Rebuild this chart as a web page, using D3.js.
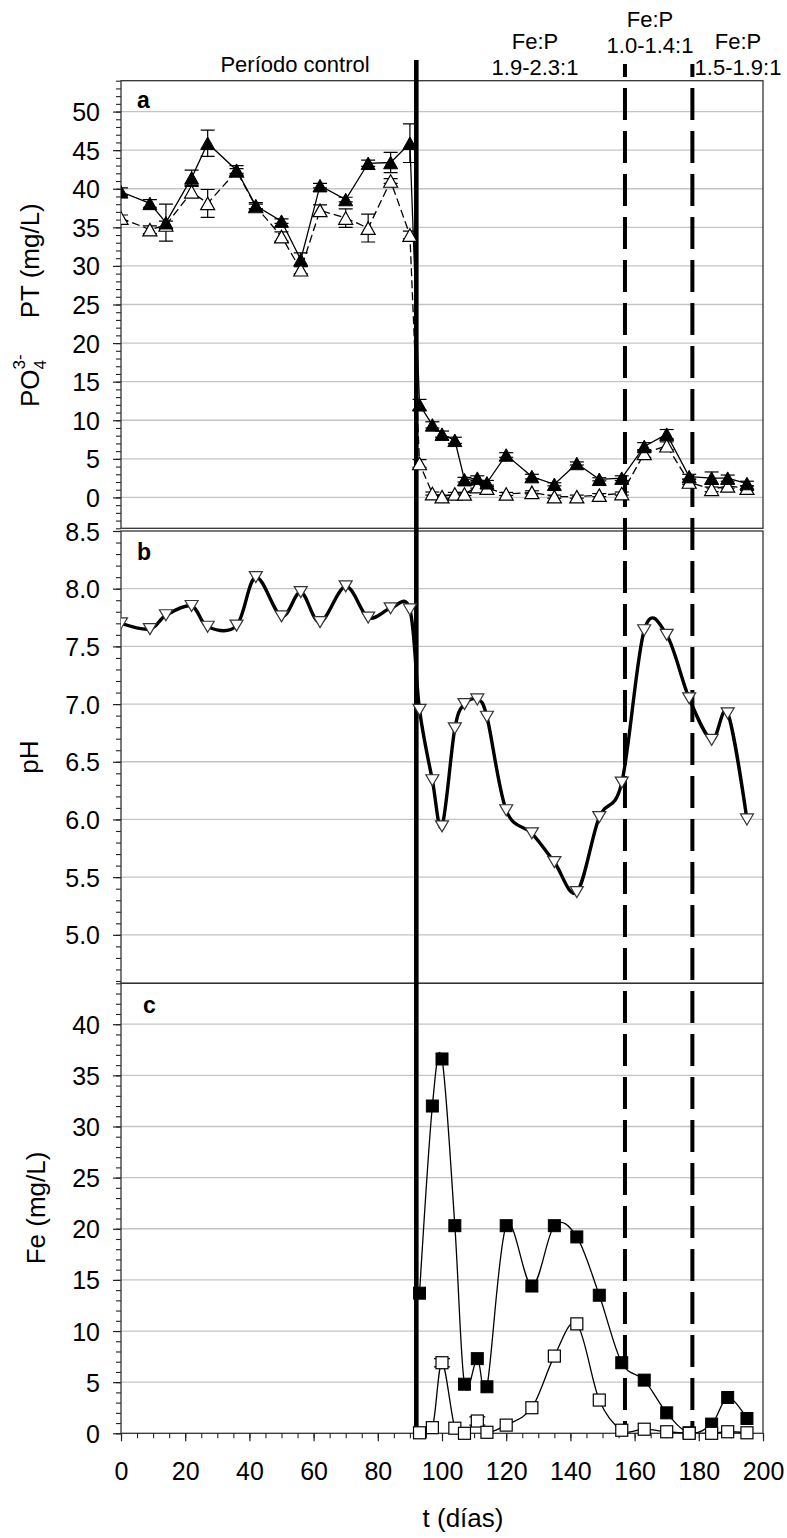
<!DOCTYPE html>
<html>
<head>
<meta charset="utf-8">
<script src="https://cdn.jsdelivr.net/npm/d3@7"></script>
<style>
  body { margin: 0; background: #fff; }
  text { font-family: "Liberation Sans", Arial, sans-serif; fill: #000; }
</style>
</head>
<body>
<svg id="chart" width="787" height="1538"></svg>
<script>
// Sampling days (t, días)
const days = [0, 9, 14, 22, 27, 36, 42, 50, 56, 62, 70, 77, 84, 90,
  93, 97, 100, 104, 107, 111, 114, 120, 128, 135, 142, 149, 156, 163, 170, 177, 184, 189, 195];

// Panel a: total phosphorus (PT) and orthophosphate (PO4 3-), mg/L, with standard deviation
const ptValues = [39.6, 38.1, 35.6, 41.4, 45.9, 42.4, 37.8, 35.8, 30.8, 40.4, 38.6, 43.3, 43.4, 45.9,
  12.0, 9.4, 8.2, 7.4, 2.3, 2.5, 1.9, 5.5, 2.7, 1.7, 4.4, 2.35, 2.5, 6.6, 8.2, 2.7, 2.5, 2.5, 1.8];
const ptErr = [0.5, 0.5, 2.4, 1.0, 1.7, 0.6, 0.4, 0.3, 0.9, 0.3, 0.3, 0.4, 1.3, 2.5,
  0.7, 0.4, 0.4, 0.4, 0.3, 0.3, 0.3, 0.3, 0.3, 0.2, 0.2, 0.2, 0.3, 0.5, 0.6, 0.3, 0.8, 0.4, 0.3];
const po4Values = [36.2, 34.7, 35.3, 39.6, 38.1, 42.3, 37.7, 33.8, 29.5, 37.2, 36.2, 34.9, 41.0, 34.0,
  4.4, 0.5, 0.1, 0.45, 0.45, 1.4, 1.2, 0.45, 0.66, 0.1, 0.1, 0.3, 0.5, 5.7, 6.7, 2.0, 1.05, 1.5, 1.2];
const po4Err = [0.4, 0.5, 0.5, 0.7, 1.8, 0.3, 0.3, 0.6, 0.5, 0.7, 1.2, 1.8, 0.3, 0.5,
  0.5, 0.2, 0.2, 0.2, 0.2, 0.2, 0.2, 0.2, 0.2, 0.2, 0.2, 0.2, 0.2, 0.5, 0.5, 0.3, 0.3, 0.3, 0.3];

// Panel b: pH
const phValues = [7.70, 7.65, 7.77, 7.85, 7.67, 7.68, 8.10, 7.76, 7.97, 7.71, 8.02, 7.75, 7.83, 7.82,
  6.95, 6.34, 5.94, 6.79, 7.00, 7.04, 6.89, 6.08, 5.88, 5.63, 5.37, 6.02, 6.32, 7.64, 7.60, 7.05, 6.69, 6.92, 6.00];

// Panel c: iron, mg/L (only measured after dosing starts)
const feDays = [93, 97, 100, 104, 107, 111, 114, 120, 128, 135, 142, 149, 156, 163, 170, 177, 184, 189, 195];
const feTotal = [13.7, 32.0, 36.6, 20.3, 4.8, 7.3, 4.55, 20.3, 14.4, 20.3, 19.2, 13.5, 6.9, 5.2, 2.0, 0.05, 0.9, 3.5, 1.45];
const feDissolved = [0.05, 0.55, 6.9, 0.5, 0.0, 1.2, 0.1, 0.8, 2.5, 7.55, 10.7, 3.25, 0.3, 0.4, 0.15, 0.0, 0.0, 0.15, 0.05];
const feDissolvedErr = [0, 0, 0.4, 0, 0, 0.4, 0, 0, 0, 0, 0, 0, 0, 0, 0, 0, 0, 0, 0];

// Axis ticks
const xTicks = [0, 20, 40, 60, 80, 100, 120, 140, 160, 180, 200];
const aTicks = [0, 5, 10, 15, 20, 25, 30, 35, 40, 45, 50];
const bTicks = [5.0, 5.5, 6.0, 6.5, 7.0, 7.5, 8.0, 8.5];
const cTicks = [0, 5, 10, 15, 20, 25, 30, 35, 40];

// Period boundaries (days) and their labels
const phaseDays = [92, 157, 178];
const phaseNames = ["Período control", "Fe:P\n1.9-2.3:1", "Fe:P\n1.0-1.4:1", "Fe:P\n1.5-1.9:1"];

const svg = d3.select("#chart");
const x = d3.scaleLinear().domain([0, 200]).range([121, 763]);
const left = 121, right = 763;

const yA = d3.scaleLinear().domain([-4, 54]).range([528.3, 80.7]);
const yB = d3.scaleLinear().domain([4.58, 8.5]).range([983.3, 531]);
const yC = d3.scaleLinear().domain([0, 44]).range([1433.3, 983.3]);

const defs = svg.append("defs");
function clip(id, y) {
  const r = y.range();
  defs.append("clipPath").attr("id", id).append("rect")
    .attr("x", left).attr("y", r[1]).attr("width", right - left).attr("height", r[0] - r[1]);
}
clip("clipA", yA); clip("clipB", yB); clip("clipC", yC);

function range(a, b, step) {
  const out = [];
  const n = Math.round((b - a) / step);
  for (let i = 0; i <= n; i++) out.push(+(a + i * step).toFixed(4));
  return out;
}

const tickFont = 25;

// Gridlines, minor/major left ticks and labels for one panel
function panelAxes(y, major, minor, fmt) {
  const g = svg.append("g");
  g.append("g").selectAll("line").data(major.filter(v => v > y.domain()[0] && v < y.domain()[1]))
    .join("line")
    .attr("x1", left).attr("x2", right)
    .attr("y1", d => y(d)).attr("y2", d => y(d))
    .attr("stroke", "#c4c4c4").attr("stroke-width", 1.3);

  const minorAxis = d3.axisLeft(y).tickValues(minor).tickSize(5).tickFormat("");
  const gm = g.append("g").attr("transform", `translate(${left},0)`).call(minorAxis);
  gm.select(".domain").remove();
  gm.selectAll("line").attr("stroke", "#222").attr("stroke-width", 1.1);

  const majorAxis = d3.axisLeft(y).tickValues(major).tickSize(8).tickPadding(13).tickFormat(fmt);
  const gM = g.append("g").attr("transform", `translate(${left},0)`).call(majorAxis);
  gM.select(".domain").remove();
  gM.selectAll("line").attr("stroke", "#222").attr("stroke-width", 1.2);
  gM.selectAll("text").attr("font-size", tickFont).attr("font-family", "Liberation Sans, Arial, sans-serif")
    .attr("fill", "#000").attr("dy", "0.36em");

  const r = y.range();
  g.append("rect").attr("x", left).attr("y", r[1]).attr("width", right - left).attr("height", r[0] - r[1])
    .attr("fill", "none").attr("stroke", "#333").attr("stroke-width", 1.3);
}

panelAxes(yA, aTicks, range(-4, 54, 1), d3.format("d"));
panelAxes(yB, bTicks, range(4.6, 8.5, 0.1), d3.format(".1f"));
panelAxes(yC, cTicks, range(0, 44, 1), d3.format("d"));

// Bottom time axis
const xMinor = d3.axisBottom(x).tickValues(range(0, 200, 5)).tickSize(5).tickFormat("");
const gxm = svg.append("g").attr("transform", `translate(0,${yC.range()[0]})`).call(xMinor);
gxm.select(".domain").remove();
gxm.selectAll("line").attr("stroke", "#222").attr("stroke-width", 1.1);
const xMajor = d3.axisBottom(x).tickValues(xTicks).tickSize(8).tickFormat(d3.format("d"));
const gxM = svg.append("g").attr("transform", `translate(0,${yC.range()[0]})`).call(xMajor);
gxM.select(".domain").remove();
gxM.selectAll("line").attr("stroke", "#222").attr("stroke-width", 1.2);
gxM.selectAll("text").attr("font-size", tickFont).attr("font-family", "Liberation Sans, Arial, sans-serif")
  .attr("fill", "#000").attr("y", 47).attr("dy", 0);

// Axis titles
svg.append("text").attr("transform", "translate(463,1527)").attr("text-anchor", "middle")
  .attr("font-size", 26).text("t (días)");

const tA = svg.append("text").attr("transform", "translate(38.5,407) rotate(-90)")
  .attr("font-size", 26);
tA.append("tspan").text("PO");
tA.append("tspan").attr("font-size", 17).attr("dy", 7).text("4");
tA.append("tspan").attr("font-size", 17).attr("dx", -9.5).attr("dy", -21).text("3-");
tA.append("tspan").attr("dx", 36).attr("dy", 14).text("PT (mg/L)");

svg.append("text").attr("transform", "translate(38,757) rotate(-90)").attr("text-anchor", "middle")
  .attr("font-size", 26).text("pH");
svg.append("text").attr("transform", "translate(45,1208) rotate(-90)").attr("text-anchor", "middle")
  .attr("font-size", 26).text("Fe (mg/L)");

// Panel letters
[["a", 137, 108], ["b", 137, 560], ["c", 143, 1013]].forEach(([t, px, py]) => {
  svg.append("text").attr("x", px).attr("y", py).attr("font-size", 23).attr("font-weight", "bold").text(t);
});

// Period boundaries
svg.append("line").attr("x1", x(phaseDays[0])).attr("x2", x(phaseDays[0]))
  .attr("y1", 60).attr("y2", yC.range()[0])
  .attr("stroke", "#000").attr("stroke-width", 4.6);
phaseDays.slice(1).forEach(d => {
  svg.append("line").attr("x1", x(d)).attr("x2", x(d))
    .attr("y1", 64).attr("y2", yC.range()[0])
    .attr("stroke", "#000").attr("stroke-width", 4)
    .attr("stroke-dasharray", "32,11").attr("stroke-dashoffset", 19);
});

// Period labels
const labelPos = [[295, [71.7]], [535, [49, 75]], [650, [26.7, 53.3]], [738, [49.3, 75]]];
phaseNames.forEach((name, i) => {
  const [cx, ys] = labelPos[i];
  name.split("\n").forEach((line, j) => {
    svg.append("text").attr("x", cx).attr("y", ys[j]).attr("text-anchor", "middle")
      .attr("font-size", 22).text(line);
  });
});

// Marker shapes
function triUp(w, h) { return `M0,${-h / 2}L${w / 2},${h / 2}L${-w / 2},${h / 2}Z`; }
function triDown(w, h) { return `M0,${h / 2}L${w / 2},${-h / 2}L${-w / 2},${-h / 2}Z`; }

// ---- Panel a ----
const gA = svg.append("g").attr("clip-path", "url(#clipA)");
const ptData = days.map((d, i) => ({ d, v: ptValues[i], e: ptErr[i] }));
const po4Data = days.map((d, i) => ({ d, v: po4Values[i], e: po4Err[i] }));
const lineA = d3.line().x(p => x(p.d)).y(p => yA(p.v));

gA.append("path").datum(po4Data).attr("d", lineA).attr("fill", "none")
  .attr("stroke", "#000").attr("stroke-width", 1.3).attr("stroke-dasharray", "8,4");
gA.append("path").datum(ptData).attr("d", lineA).attr("fill", "none")
  .attr("stroke", "#000").attr("stroke-width", 1.3);

function errorBars(g, data, y, cap) {
  const eb = g.append("g").attr("stroke", "#000").attr("stroke-width", 1.2);
  data.filter(p => p.e > 0).forEach(p => {
    const cx = x(p.d), y1 = y(p.v - p.e), y2 = y(p.v + p.e);
    eb.append("line").attr("x1", cx).attr("x2", cx).attr("y1", y1).attr("y2", y2);
    eb.append("line").attr("x1", cx - cap).attr("x2", cx + cap).attr("y1", y1).attr("y2", y1);
    eb.append("line").attr("x1", cx - cap).attr("x2", cx + cap).attr("y1", y2).attr("y2", y2);
  });
}
errorBars(gA, po4Data, yA, 7);
errorBars(gA, ptData, yA, 7);

gA.append("g").selectAll("path").data(po4Data).join("path")
  .attr("transform", p => `translate(${x(p.d)},${yA(p.v)})`)
  .attr("d", triUp(14, 12.5)).attr("fill", "#fff").attr("stroke", "#000").attr("stroke-width", 1.2);
gA.append("g").selectAll("path").data(ptData).join("path")
  .attr("transform", p => `translate(${x(p.d)},${yA(p.v)})`)
  .attr("d", triUp(14, 12.5)).attr("fill", "#000").attr("stroke", "#000").attr("stroke-width", 1);

// ---- Panel b ----
const gB = svg.append("g").attr("clip-path", "url(#clipB)");
const phData = days.map((d, i) => ({ d, v: phValues[i] }));
gB.append("path").datum(phData)
  .attr("d", d3.line().curve(d3.curveCardinal.tension(0)).x(p => x(p.d)).y(p => yB(p.v)))
  .attr("fill", "none").attr("stroke", "#000").attr("stroke-width", 3.4).attr("stroke-linejoin", "round");
gB.append("g").selectAll("path").data(phData).join("path")
  .attr("transform", p => `translate(${x(p.d)},${yB(p.v)})`)
  .attr("d", triDown(13, 11)).attr("fill", "#fff").attr("stroke", "#333").attr("stroke-width", 1.2);

// ---- Panel c ----
const gC = svg.append("g").attr("clip-path", "url(#clipC)");
const feTData = feDays.map((d, i) => ({ d, v: feTotal[i] }));
const feDData = feDays.map((d, i) => ({ d, v: feDissolved[i], e: feDissolvedErr[i] }));
const lineC = d3.line().curve(d3.curveCardinal.tension(0)).x(p => x(p.d)).y(p => yC(p.v));
gC.append("path").datum(feDData).attr("d", lineC).attr("fill", "none")
  .attr("stroke", "#000").attr("stroke-width", 1.3);
gC.append("path").datum(feTData).attr("d", lineC).attr("fill", "none")
  .attr("stroke", "#000").attr("stroke-width", 1.3);
errorBars(gC, feDData, yC, 8);

const gCm = svg.append("g");
gCm.append("g").selectAll("rect").data(feTData).join("rect")
  .attr("x", p => x(p.d) - 6).attr("y", p => yC(p.v) - 6).attr("width", 12).attr("height", 12)
  .attr("fill", "#000").attr("stroke", "#000").attr("stroke-width", 1);
gCm.append("g").selectAll("rect").data(feDData).join("rect")
  .attr("x", p => x(p.d) - 6).attr("y", p => yC(p.v) - 6).attr("width", 12).attr("height", 12)
  .attr("fill", "#fff").attr("stroke", "#000").attr("stroke-width", 1.2);
</script>
</body>
</html>
